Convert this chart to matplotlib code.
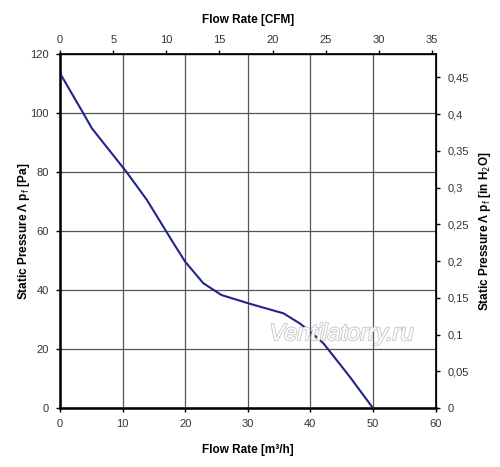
import numpy as np
import matplotlib
matplotlib.use('Agg')
import matplotlib.pyplot as plt
import matplotlib.patheffects as pe

plt.rcParams['font.family'] = ['Liberation Sans', 'DejaVu Sans']

# fan curve
flow_m3h = [0, 3.7, 5.1, 10.6, 13.9, 17.8, 20.0, 22.9, 25.8, 30.4, 35.7, 38.3, 40.0, 42.1, 46.3, 50.0]
pressure_pa = [113.5, 100, 94.8, 80.1, 70.5, 57, 49.6, 42.3, 38.3, 35.3, 32.1, 28.7, 25.9, 21.9, 10.6, 0]

x_ticks = [0, 10, 20, 30, 40, 50, 60]
y_ticks = [0, 20, 40, 60, 80, 100, 120]
cfm_ticks = [0, 5, 10, 15, 20, 25, 30, 35]
inh2o_ticks = [0, 0.05, 0.1, 0.15, 0.2, 0.25, 0.3, 0.35, 0.4, 0.45]

M3H_PER_CFM = 1.699
PA_PER_INH2O = 249.09

tick_col = '#333333'
tick_fs = 8

fig = plt.figure(figsize=(5, 4.67), dpi=100)
ax = fig.add_axes([0.12, 0.1263, 0.751, 0.758])
ax.plot(flow_m3h, pressure_pa, color='#23238c', lw=1.5, zorder=3)
ax.set_xlim(0, 60)
ax.set_ylim(0, 120)
ax.set_xticks(x_ticks)
ax.set_yticks(y_ticks)
ax.grid(True, color='#555555', lw=0.9)
for s in ax.spines.values():
    s.set_color('black')
    s.set_linewidth(1.2)
ax.spines['left'].set_linewidth(1.8)
ax.spines['bottom'].set_linewidth(1.8)
ax.tick_params(labelsize=tick_fs, labelcolor=tick_col, length=3, width=1, direction='out', pad=5)
ax.set_xlabel('Flow Rate [m³/h]', fontsize=8.5, fontweight='bold', labelpad=11)
ax.set_ylabel(r'Static Pressure Λ p$_\mathrm{f}$ [Pa]', fontsize=8.5, fontweight='bold', labelpad=-1)

top = ax.twiny()
top.set_xlim(0, 60 / M3H_PER_CFM)
top.set_xticks(cfm_ticks)
top.tick_params(labelsize=tick_fs, labelcolor=tick_col, length=3, width=1, direction='out')
top.set_xlabel('Flow Rate [CFM]', fontsize=8.5, fontweight='bold', labelpad=9)

right = ax.twinx()
right.set_ylim(0, 120 / PA_PER_INH2O)
right.set_yticks(inh2o_ticks)
right.set_yticklabels([('%g' % v).replace('.', ',') for v in inh2o_ticks])
right.tick_params(labelsize=tick_fs, labelcolor=tick_col, length=3, width=1, direction='out', pad=6)
right.set_ylabel(r'Static Pressure Λ p$_\mathrm{f}$ [in H$_2$O]', fontsize=8.5, fontweight='bold', labelpad=5.5)

# watermark
ax.text(0.75, 0.21, 'Ventilatorry.ru', transform=ax.transAxes, ha='center', va='center',
        fontsize=17, style='italic', color='white', zorder=4,
        path_effects=[pe.withStroke(linewidth=1.3, foreground='#c8c8c8')])

fig.savefig('out.png', dpi=100)
